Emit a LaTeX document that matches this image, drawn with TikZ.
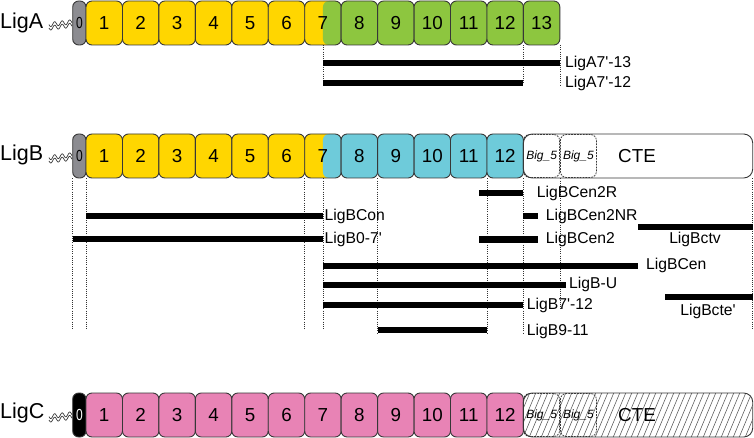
\documentclass[tikz,border=0pt]{standalone}
\usepackage{fontspec}
\setmainfont{Liberation Sans}
\definecolor{cYel}{RGB}{255,214,0}
\definecolor{cGrn}{RGB}{141,198,63}
\definecolor{cCya}{RGB}{110,203,218}
\definecolor{cPnk}{RGB}{232,131,181}
\definecolor{cGry}{RGB}{140,140,145}
\definecolor{cEdge}{RGB}{55,55,55}
\newcommand{\pq}{\textquotesingle}
\tikzset{
  dom/.style={draw=cEdge, line width=0.9pt, rounded corners=6pt, minimum width=36.45pt, minimum height=44pt, inner sep=0pt, font=\fontsize{18.8}{20}\selectfont},
  zero/.style={draw=cEdge, line width=0.9pt, rounded corners=6pt, minimum width=13.3pt, minimum height=44pt, inner sep=0pt, font=\fontsize{16}{18}\selectfont},
  ctebox/.style={draw=cEdge, line width=0.9pt, rounded corners=9pt, minimum width=229.3pt, minimum height=44pt, inner sep=0pt},
  bigbox/.style={draw=cEdge, line width=0.75pt, dash pattern=on 1.8pt off 1.1pt, rounded corners=6pt, minimum width=36pt, minimum height=43pt, inner sep=0pt, font=\fontsize{12}{13}\selectfont\itshape},
  bar/.style={line width=6pt, black},
  guide/.style={draw=black!80, line width=0.55pt, dash pattern=on 1pt off 1.2pt},
  lbl/.style={anchor=west, inner sep=0pt, font=\fontsize{15.7}{17}\selectfont},
  lblc/.style={anchor=center, inner sep=0pt, font=\fontsize{15.7}{17}\selectfont},
  rowname/.style={anchor=west, inner sep=0pt, font=\fontsize{21.5}{24}\selectfont},
  ctetext/.style={inner sep=0pt, font=\fontsize{18.8}{20}\selectfont},
  wave/.style={draw=cEdge, line width=0.7pt},
  splitG/.style={path picture={\fill[cGrn] (path picture bounding box.north) rectangle (path picture bounding box.south east);}},
  splitC/.style={path picture={\fill[cCya] (path picture bounding box.north) rectangle (path picture bounding box.south east);}}
}
\begin{document}
\begin{tikzpicture}[x=1pt,y=-1pt]
\useasboundingbox (0,0) rectangle (754,438);

% ---------------- LigA ----------------
\node[rowname] (nA) at (0,23) {LigA};
\draw[wave,domain=0:23,samples=60] plot ({49+\x},{28-0.12*\x+2.2*sin(\x*48)});
\draw[wave,domain=0:23,samples=60] plot ({49+\x},{24.6-0.12*\x+2.2*sin(\x*48)});
\node[zero, fill=cGry] (A0) at (79.35,23) {\scalebox{0.75}[1]{0}};
\foreach \i in {1,...,6} \node[dom, fill=cYel] (A\i) at ({86+(\i-0.5)*36.45},23) {\i};
\node[dom, fill=cYel, splitG] (A7) at ({86+6.5*36.45},23) {7};
\foreach \i in {8,...,13} \node[dom, fill=cGrn] (A\i) at ({86+(\i-0.5)*36.45},23) {\i};

\draw[guide] (322.9,45) -- (322.9,86);
\draw[guide] (523.4,45) -- (523.4,84);
\draw[guide] (559.85,45) -- (559.85,85);
\coordinate (a1s) at (322.9,63); \coordinate (a1e) at (559.85,63);
\coordinate (a2s) at (322.9,83); \coordinate (a2e) at (523.4,83);
\draw[bar] (a1s) -- (a1e);
\draw[bar] (a2s) -- (a2e);
\node[lbl] (lA1) at (565,63) {LigA7\pq-13};
\node[lbl] (lA2) at (565,83) {LigA7\pq-12};

% ---------------- LigB ----------------
\node[rowname] (nB) at (0,155) {LigB};
\draw[wave,domain=0:23,samples=60] plot ({49+\x},{161-0.12*\x+2.2*sin(\x*48)});
\draw[wave,domain=0:23,samples=60] plot ({49+\x},{157.6-0.12*\x+2.2*sin(\x*48)});
\node[zero, fill=cGry] (B0) at (79.35,156) {\scalebox{0.75}[1]{0}};
\foreach \i in {1,...,6} \node[dom, fill=cYel] (B\i) at ({86+(\i-0.5)*36.45},156) {\i};
\node[dom, fill=cYel, splitC] (B7) at ({86+6.5*36.45},156) {7};
\foreach \i in {8,...,12} \node[dom, fill=cCya] (B\i) at ({86+(\i-0.5)*36.45},156) {\i};
\node[ctebox, fill=white] (BC) at (638.05,156) {};
\node[bigbox] (Bb1) at (541.6,156) {Big\_5};
\node[bigbox] (Bb2) at (578.4,156) {Big\_5};
\node[ctetext] (BCt) at (637,156) {CTE};

% guides
\foreach \gx in {72.7,86,304.7,322.9,752.7} \draw[guide] (\gx,178.5) -- (\gx,330);
\foreach \gx in {377.6,487,523.4} \draw[guide] (\gx,178.5) -- (\gx,333);
\draw[guide] (559.85,178.5) -- (559.85,310);

% bars
\draw[bar] (479,192.7) -- (523.4,192.7);
\node[lbl] (l1) at (536.7,193) {LigBCen2R};
\draw[bar] (86,216) -- (322.9,216);
\node[lbl] (l2) at (324.5,216) {LigBCon};
\draw[bar] (523.4,216) -- (537.7,216);
\node[lbl] (l3) at (545.7,216) {LigBCen2NR};
\draw[bar] (638,226.7) -- (752.7,226.7);
\node[lblc] (l4) at (695,239.5) {LigBctv};
\draw[bar] (72.7,239) -- (322.9,239);
\node[lbl] (l5) at (324.5,239) {LigB0-7\pq};
\draw[bar] (479,239.5) -- (537.7,239.5);
\node[lbl] (l6) at (545.7,239.5) {LigBCen2};
\draw[bar] (322.9,265.7) -- (638,265.7);
\node[lbl] (l7) at (646,265.7) {LigBCen};
\draw[bar] (322.9,285) -- (566,285);
\node[lbl] (l8) at (569,284.5) {LigB-U};
\draw[bar] (665,296.7) -- (752.7,296.7);
\node[lblc] (l9) at (708,311) {LigBcte\pq};
\draw[bar] (322.9,305) -- (523.4,305);
\node[lbl] (l10) at (526.7,305) {LigB7\pq-12};
\draw[bar] (377.6,330) -- (487,330);
\node[lbl] (l11) at (526.7,331) {LigB9-11};

% ---------------- LigC ----------------
\node[rowname] (nC) at (0,413) {LigC};
\draw[wave,domain=0:23,samples=60] plot ({49+\x},{420-0.12*\x+2.2*sin(\x*48)});
\draw[wave,domain=0:23,samples=60] plot ({49+\x},{416.6-0.12*\x+2.2*sin(\x*48)});
\node[zero, fill=black, text=white] (C0) at (79.35,415) {\scalebox{0.75}[1]{0}};
\foreach \i in {1,...,12} \node[dom, fill=cPnk] (C\i) at ({86+(\i-0.5)*36.45},415) {\i};
\begin{scope}
  \clip[rounded corners=9pt] (523.4,393) rectangle (752.7,437);
  \foreach \hx in {480,486,...,760} \draw[cEdge!85, line width=0.55pt] (\hx,440) -- ({\hx+21},390);
\end{scope}
\node[ctebox] (CC) at (638.05,415) {};
\node[bigbox] (Cb1) at (541.6,415) {Big\_5};
\node[bigbox] (Cb2) at (578.4,415) {Big\_5};
\node[ctetext] (CCt) at (637,415) {CTE};
\end{tikzpicture}
\end{document}
